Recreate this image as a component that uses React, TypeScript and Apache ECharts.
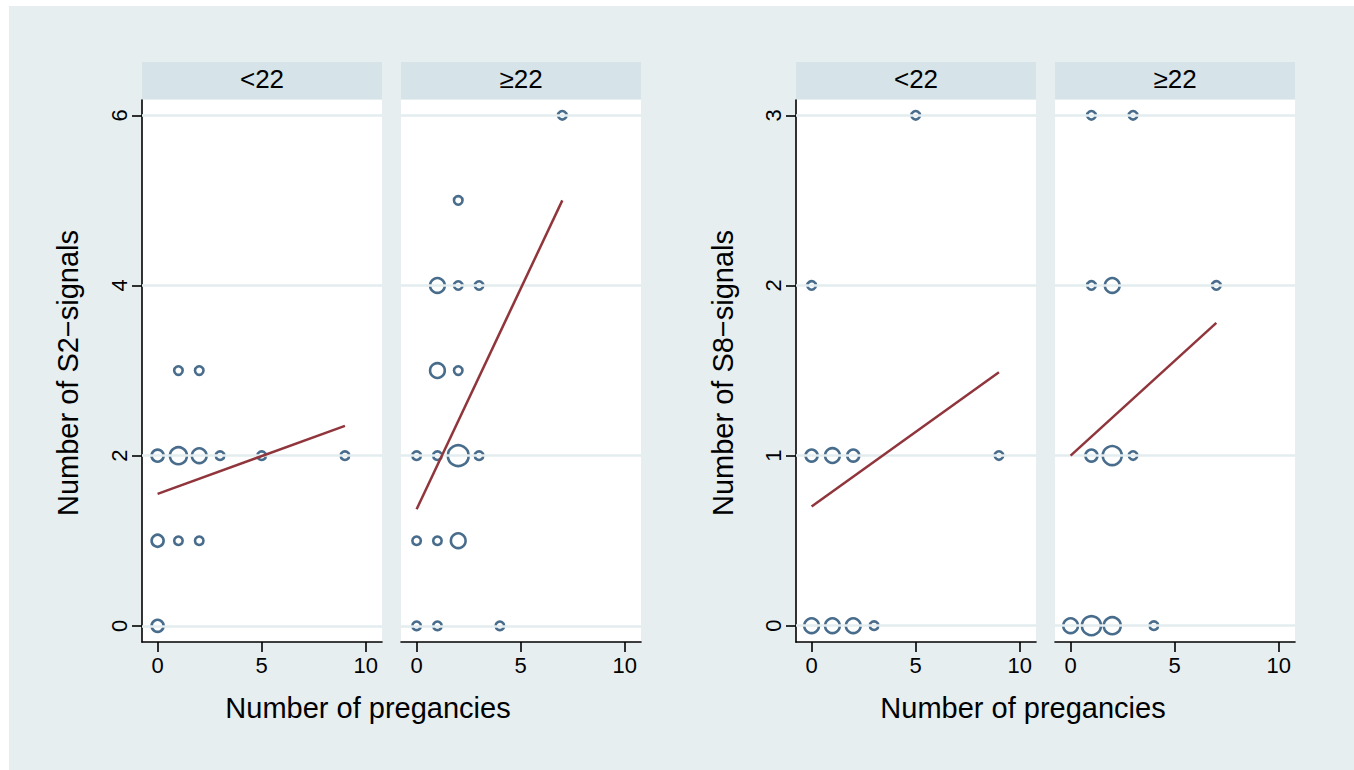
import React, { useEffect, useRef } from 'react';
import * as echarts from 'echarts';

// Tick values
const xTicks = [0, 5, 10];
const s2Ticks = [0, 2, 4, 6];
const s8Ticks = [0, 1, 2, 3];

// Texts
const ageGroups = ['<22', '≥22'];
const xTitle = 'Number of pregancies';
const yTitleS2 = 'Number of S2−signals';
const yTitleS8 = 'Number of S8−signals';

// [pregnancies, signals, frequency]
const s2Under22 = [
  [1, 3, 1], [2, 3, 1],
  [0, 2, 2], [1, 2, 4], [2, 2, 3], [3, 2, 1], [5, 2, 1], [9, 2, 1],
  [0, 1, 2], [1, 1, 1], [2, 1, 1],
  [0, 0, 2],
];
const s2Over22 = [
  [7, 6, 1],
  [2, 5, 1],
  [1, 4, 3], [2, 4, 1], [3, 4, 1],
  [1, 3, 3], [2, 3, 1],
  [0, 2, 1], [1, 2, 1], [2, 2, 6], [3, 2, 1],
  [0, 1, 1], [1, 1, 1], [2, 1, 3],
  [0, 0, 1], [1, 0, 1], [4, 0, 1],
];
const s8Under22 = [
  [5, 3, 1],
  [0, 2, 1],
  [0, 1, 2], [1, 1, 3], [2, 1, 2], [9, 1, 1],
  [0, 0, 3], [1, 0, 3], [2, 0, 3], [3, 0, 1],
];
const s8Over22 = [
  [1, 3, 1], [3, 3, 1],
  [1, 2, 1], [2, 2, 3], [7, 2, 1],
  [1, 1, 2], [2, 1, 5], [3, 1, 1],
  [0, 0, 3], [1, 0, 5], [2, 0, 4], [4, 0, 1],
];

// Fitted line end points
const fitS2Under22 = [[0, 1.55], [9, 2.35]];
const fitS2Over22 = [[0, 1.37], [7, 5.0]];
const fitS8Under22 = [[0, 0.7], [9, 1.49]];
const fitS8Over22 = [[0, 1.0], [7, 1.78]];

const FONT = '"Liberation Sans", Arial, Helvetica, sans-serif';
const BG = '#e6eef0';
const STRIP = '#d6e3e8';
const GRIDLINE = '#e3ecef';
const MARKER = '#1a476f';
const FIT = '#90353b';

export default function App() {
  const ref = useRef<HTMLDivElement>(null);

  useEffect(() => {
    if (!ref.current) return;
    const chart = echarts.init(ref.current, undefined, { renderer: 'svg' });

    const panels = [
      { left: 142, data: s2Under22, fit: fitS2Under22, ticks: s2Ticks, ymin: -0.19, ymax: 6.18, showY: true, title: ageGroups[0] },
      { left: 401, data: s2Over22, fit: fitS2Over22, ticks: s2Ticks, ymin: -0.19, ymax: 6.18, showY: false, title: ageGroups[1] },
      { left: 796, data: s8Under22, fit: fitS8Under22, ticks: s8Ticks, ymin: -0.096, ymax: 3.09, showY: true, title: ageGroups[0] },
      { left: 1055, data: s8Over22, fit: fitS8Over22, ticks: s8Ticks, ymin: -0.096, ymax: 3.09, showY: false, title: ageGroups[1] },
    ];
    const W = 240;
    const TOP = 100;
    const H = 542;

    const grid = panels.map((p) => ({
      left: p.left, top: TOP, width: W, height: H,
      show: true, backgroundColor: '#ffffff', borderWidth: 0, containLabel: false,
    }));

    const xAxis = panels.map((p, i) => ({
      type: 'value', gridIndex: i, min: -0.75, max: 10.78,
      axisLine: { show: true, onZero: false, lineStyle: { color: '#000', width: 1.6 } },
      axisTick: { show: true, length: 10, customValues: xTicks, lineStyle: { color: '#000', width: 1.6 } },
      axisLabel: {
        show: true, customValues: xTicks, margin: 12,
        textStyle: { fontSize: 22, fontFamily: FONT, color: '#000' },
        fontSize: 22, fontFamily: FONT, color: '#000',
      },
      splitLine: { show: false },
    }));

    const yAxis = panels.map((p, i) => ({
      type: 'value', gridIndex: i, min: p.ymin, max: p.ymax,
      axisLine: { show: p.showY, onZero: false, lineStyle: { color: '#000', width: 1.6 } },
      axisTick: { show: p.showY, length: 10, customValues: p.ticks, lineStyle: { color: '#000', width: 1.6 } },
      axisLabel: {
        show: p.showY, customValues: p.ticks, rotate: 90, margin: 12,
        textStyle: { fontSize: 22, fontFamily: FONT, color: '#000' },
        fontSize: 22, fontFamily: FONT, color: '#000',
      },
      splitLine: { show: false },
    }));

    const series: any[] = [];
    panels.forEach((p, i) => {
      series.push({
        type: 'scatter', xAxisIndex: i, yAxisIndex: i, z: 3,
        data: p.data,
        symbol: 'circle',
        symbolSize: (v: number[]) => 8.5 * Math.sqrt(v[2]),
        itemStyle: { color: 'rgba(0,0,0,0)', borderColor: MARKER, borderWidth: 2.6 },
        emphasis: { disabled: true },
        markLine: {
          silent: true, symbol: ['none', 'none'], label: { show: false },
          lineStyle: { color: GRIDLINE, width: 2.5, type: 'solid' },
          emphasis: { disabled: true },
          data: p.ticks.map((t) => ({ yAxis: t })),
        },
      });
      series.push({
        type: 'line', xAxisIndex: i, yAxisIndex: i, z: 5,
        data: p.fit, symbol: 'none', showSymbol: false,
        lineStyle: { color: FIT, width: 2.5 },
        emphasis: { disabled: true },
      });
    });

    const graphic: any[] = [
      { type: 'rect', shape: { x: 0, y: 0, width: 1354, height: 6 }, style: { fill: '#ffffff' }, silent: true },
      { type: 'rect', shape: { x: 0, y: 0, width: 9, height: 770 }, style: { fill: '#ffffff' }, silent: true },
    ];
    panels.forEach((p) => {
      graphic.push({ type: 'rect', shape: { x: p.left, y: 62, width: W, height: 37 }, style: { fill: STRIP }, silent: true });
      graphic.push({
        type: 'text', x: p.left + W / 2, y: 79, silent: true,
        style: { text: p.title, font: `26px ${FONT}`, fill: '#000', textAlign: 'center', textVerticalAlign: 'middle' },
      });
    });
    [[368, yTitleS2, 68], [1023, yTitleS8, 723]].forEach(([xc, yt, yx]) => {
      graphic.push({
        type: 'text', x: xc, y: 708, silent: true,
        style: { text: xTitle, font: `29px ${FONT}`, fill: '#000', textAlign: 'center', textVerticalAlign: 'middle' },
      });
      graphic.push({
        type: 'text', x: yx, y: 373, rotation: Math.PI / 2, silent: true,
        style: { text: yt, font: `29px ${FONT}`, fill: '#000', textAlign: 'center', textVerticalAlign: 'middle' },
      });
    });

    chart.setOption({
      animation: false,
      backgroundColor: BG,
      textStyle: { fontFamily: FONT },
      grid, xAxis, yAxis, series, graphic,
    });

    return () => chart.dispose();
  }, []);

  return <div ref={ref} style={{ position: 'fixed', left: 0, top: 0, width: 1354, height: 770 }} />;
}
